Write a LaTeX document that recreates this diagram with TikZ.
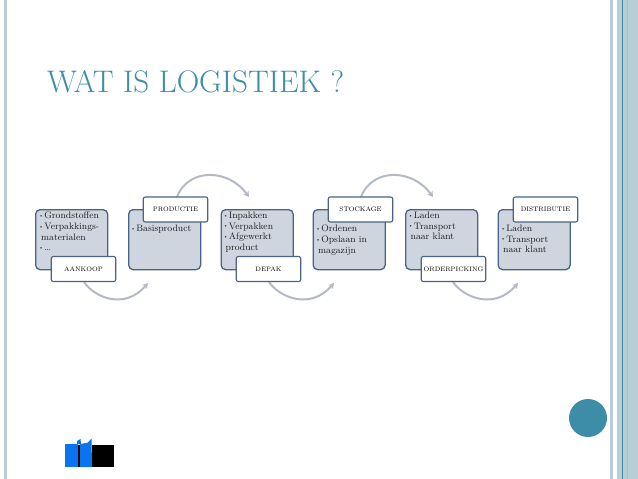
\documentclass[tikz,border=0pt]{standalone}
\usetikzlibrary{arrows.meta}
\definecolor{teal}{HTML}{3D8DA9}
\definecolor{stripe}{HTML}{B9CDD7}
\definecolor{boxfill}{HTML}{CFD5DF}
\definecolor{boxline}{HTML}{4A6288}
\definecolor{arcgray}{HTML}{B4BAC4}
\definecolor{logoblue}{HTML}{0A74F0}
\tikzset{
  x=1pt,y=-1pt,
  procbox/.style={draw=boxline,line width=1.3pt,fill=boxfill,rounded corners=4.5pt,minimum width=72pt,minimum height=60pt,inner sep=0pt,anchor=north west},
  labelbox/.style={draw=boxline,line width=1.1pt,fill=white,rounded corners=2pt,minimum width=64.5pt,minimum height=25pt,inner sep=0pt,font=\fontsize{6.5}{7}\selectfont},
  bodytext/.style={align=left,anchor=north west,inner sep=0pt,font=\fontsize{9.4}{10.6}\selectfont,text=black!88},
  arcline/.style={draw=arcgray,line width=2pt,-{Stealth[length=5.5pt,width=6.5pt]}},
}
\newcommand{\dotb}{\raisebox{0.15em}{\scalebox{0.55}{\textbullet}}\kern1pt}
\begin{document}
\begin{tikzpicture}
\useasboundingbox (0,0) rectangle (638,479);
% page stripes
\fill[stripe] (3.5,0) rectangle (7.3,479);
\fill[stripe] (610.3,0) rectangle (613,479);
\fill[stripe] (617,0) rectangle (638,479);
\fill[teal] (621.7,0) rectangle (622.7,479);
\fill[stripe!85!teal] (627,0) rectangle (627.7,479);
\fill[teal] (588,418) circle (19);
% title
\node[anchor=base west,inner sep=0pt,text=teal,font=\fontsize{31.2}{34}\selectfont] (title) at (47,92.5) {WAT IS LOGISTIEK ?};
% arc endpoints
\coordinate (e1) at (148,283);
\coordinate (e2) at (249,197);
\coordinate (e3) at (334,283);
\coordinate (e4) at (433,197);
\coordinate (e5) at (518,283);
% boxes
\node[procbox] (b1) at (35,209) {};
\node[procbox] (b2) at (128,209) {};
\node[procbox] (b3) at (220.5,209) {};
\node[procbox] (b4) at (312.5,209) {};
\node[procbox] (b5) at (405,209) {};
\node[procbox] (b6) at (497.5,209) {};
% arcs
\coordinate (s1) at (84,282);
\coordinate (s2) at (177,197);
\coordinate (s3) at (269,282);
\coordinate (s4) at (361,197);
\coordinate (s5) at (453,282);
\draw[arcline] (s1) .. controls (95,298) and (125,310) .. (e1);
\draw[arcline] (s2) .. controls (188,168) and (228,168) .. (e2);
\draw[arcline] (s3) .. controls (280,298) and (311,310) .. (e3);
\draw[arcline] (s4) .. controls (372,168) and (412,168) .. (e4);
\draw[arcline] (s5) .. controls (464,298) and (495,310) .. (e5);
% labels
\node[labelbox] (l1) at (83.5,269) {AANKOOP};
\node[labelbox] (l2) at (175.5,209.5) {PRODUCTIE};
\node[labelbox] (l3) at (268.5,269) {DEPAK};
\node[labelbox] (l4) at (360.5,209.5) {STOCKAGE};
\node[labelbox] (l5) at (453.5,269) {ORDERPICKING};
\node[labelbox] (l6) at (545.5,209.5) {DISTRIBUTIE};
% body texts
\node[bodytext] (t1) at (39,212) {\dotb Grondstoffen\\\dotb Verpakkings-\\\hspace*{2pt}materialen\\\dotb \dots};
\node[bodytext] (t2) at (131,225) {\dotb Basisproduct};
\node[bodytext] (t3) at (223.5,212) {\dotb Inpakken\\\dotb Verpakken\\\dotb Afgewerkt\\\hspace*{2pt}product};
\node[bodytext] (t4) at (316,225) {\dotb Ordenen\\\dotb Opslaan in\\\hspace*{2pt}magazijn};
\node[bodytext] (t5) at (408.5,212) {\dotb Laden\\\dotb Transport\\\hspace*{2pt}naar klant};
\node[bodytext] (t6) at (501,225) {\dotb Laden\\\dotb Transport\\\hspace*{2pt}naar klant};
% logo
\fill[black] (92,444.5) rectangle (114,467);
\fill[black] (78,444.5) rectangle (80,467);
\fill[logoblue] (65,444) rectangle (78,467);
\fill[logoblue] (80,444) -- (77,444) -- (77,441) -- (80.5,439) -- (81,444) -- (88,442.5) -- (91.5,438.5) -- (92,467) -- (80,467) -- cycle;
\end{tikzpicture}
\end{document}
